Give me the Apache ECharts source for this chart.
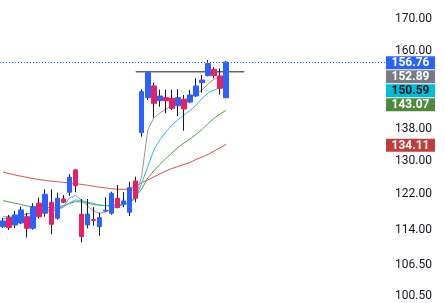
<!DOCTYPE html>
<html><head><meta charset="utf-8">
<script src="https://cdn.jsdelivr.net/npm/echarts@6/dist/echarts.min.js"></script>
<style>html,body{margin:0;padding:0;background:#fff}#c{width:445px;height:303px}</style>
</head><body><div id="c"></div>
<script>
const opens  = [114.66,116.64,115.03,115.47,116.86,114.31,119.88,117.62,120.11,116.51,120.86,122.41,127.70,117.40,115.03,116.20,114.66,118.10,117.62,121.02,119.65,117.85,125.06,137.09,146.52,149.82,145.69,146.52,146.36,144.31,146.08,145.29,146.99,150.74,152.78,154.64,152.69,146.52];
const highs  = [116.57,117.24,118.14,119.11,117.70,119.88,121.16,123.11,123.11,122.31,121.78,126.74,127.95,120.86,120.86,118.97,117.76,121.25,122.54,124.12,122.41,124.90,126.09,148.88,153.85,150.74,148.79,148.79,148.79,148.88,147.27,148.68,152.02,152.98,157.40,155.24,154.94,157.00];
const lows   = [114.38,113.94,114.38,115.20,112.29,114.00,116.50,116.86,113.02,116.20,119.90,121.55,122.41,111.31,114.31,114.88,112.72,117.90,117.30,118.74,118.97,117.00,120.11,136.05,145.88,141.06,144.03,142.24,143.13,141.51,137.61,145.00,146.70,147.92,152.60,152.02,147.38,146.40];
const closes = [115.91,114.44,117.24,118.36,114.31,119.11,116.86,121.94,115.18,121.02,120.11,125.95,123.95,112.51,117.46,116.05,116.64,118.30,122.17,118.88,120.40,123.48,121.02,148.20,153.65,144.97,146.99,145.69,143.60,146.52,143.40,147.27,149.82,151.53,156.36,152.78,149.17,156.76];
const maGray  = [116.35,116.57,116.80,117.02,117.46,117.91,118.14,118.36,118.47,118.70,119.04,121.09,121.66,120.63,119.26,118.14,117.62,117.91,118.59,119.26,119.60,120.18,121.32,126.26,137.79,140.97,142.32,143.40,144.22,145.19,145.88,146.57,147.55,148.68,150.38,151.82,151.97,152.89];
const maCyan  = [116.80,116.91,117.02,117.24,117.46,117.69,117.91,118.02,118.14,118.36,119.04,119.95,120.63,120.52,120.18,119.83,119.49,119.33,119.26,119.38,119.60,119.95,121.09,124.59,128.51,132.65,135.20,137.27,139.11,140.44,141.78,143.00,144.36,146.30,147.83,148.68,149.39,150.59];
const maGreen = [120.47,120.18,119.88,119.60,119.26,119.04,118.90,118.88,118.90,119.04,119.31,119.83,120.24,120.18,119.88,119.60,119.42,119.33,119.40,119.49,119.58,119.95,121.32,123.18,125.78,127.46,129.04,130.53,131.90,133.28,134.43,135.46,136.62,137.92,139.51,140.90,142.05,143.07];
const maRed   = [127.21,126.85,126.50,126.19,125.90,125.64,125.40,125.21,125.02,124.88,124.74,124.59,124.47,124.24,124.05,123.81,123.60,123.41,123.22,123.13,123.08,123.13,123.77,124.71,125.30,126.02,126.74,127.46,128.07,128.55,129.04,129.54,130.29,130.90,131.53,132.40,133.20,134.11];
const yTicks = [170, 160, 138, 130, 122, 114, 106.5, 100.5];
const levelPrice = 153.9, levelFrom = 22, levelTo = 40;
const totalSlots = 64;
const categories = opens.map((_, i) => String(i + 1));

const BLUE = '#2962ff', PINK = '#e91e63', INK = '#131722';
const allCats = categories.concat(Array.from({length: totalSlots - categories.length}, (_, i) => 'e' + i));
const wickData = opens.map((o, i) => [o, closes[i], lows[i], highs[i]]);
const bodyData = opens.map((o, i) => [o, closes[i], Math.min(o, closes[i]), Math.max(o, closes[i])]);
const levelData = allCats.map((_, i) => (i >= levelFrom && i <= levelTo) ? levelPrice : null);

const chart = echarts.init(document.getElementById('c'), null, {renderer: 'canvas'});
const lineS = (data, color) => ({type: 'line', data, symbol: 'none', smooth: false, silent: true,
  lineStyle: {color, width: 1}, z: 2});
chart.setOption({
  animation: false,
  backgroundColor: '#ffffff',
  grid: {left: 0, right: 59, top: 0, bottom: 0},
  xAxis: {type: 'category', data: allCats, show: false, boundaryGap: true},
  yAxis: {type: 'log', logBase: 10, position: 'right', min: 99.17, max: 176.42,
    splitLine: {show: false}, axisLine: {show: false}, axisTick: {show: false},
    axisLabel: {customValues: yTicks, formatter: v => Number(v).toFixed(2), color: INK,
      fontSize: 12, fontFamily: 'Roboto', margin: 9}},
  series: [
    lineS(maRed, '#d4524e'),
    lineS(maGreen, '#5a9a48'),
    lineS(maCyan, '#22c0d8'),
    lineS(maGray, '#9598a1'),
    {type: 'line', data: levelData, symbol: 'none', lineStyle: {color: INK, width: 1}, z: 3, silent: true},
    {type: 'candlestick', data: wickData, barWidth: 1, z: 4, silent: true,
      itemStyle: {color: INK, color0: INK, borderColor: INK, borderColor0: INK, borderWidth: 1},
      markLine: {symbol: 'none', silent: true, label: {show: false},
        lineStyle: {color: BLUE, type: [1, 2], width: 1},
        data: [{yAxis: closes[closes.length - 1]}]}},
    {type: 'candlestick', data: bodyData, barWidth: 5, z: 5, silent: true,
      itemStyle: {color: BLUE, color0: PINK, borderColor: BLUE, borderColor0: PINK, borderWidth: 1}}
  ]
});

// price tags on the right axis; nearby tags are grouped, stacked and centred on their mean
const tags = [
  {v: closes[closes.length - 1], bg: BLUE, fg: '#ffffff'},
  {v: maGray[maGray.length - 1], bg: '#787b86', fg: '#ffffff'},
  {v: maCyan[maCyan.length - 1], bg: '#00bcd4', fg: '#131722'},
  {v: maGreen[maGreen.length - 1], bg: '#4e8a3e', fg: '#ffffff'},
  {v: maRed[maRed.length - 1], bg: '#c43c38', fg: '#ffffff'}
];
const H = 14, NEAR = 28;
tags.forEach(t => { t.y0 = chart.convertToPixel({yAxisIndex: 0}, t.v); });
tags.sort((a, b) => a.y0 - b.y0);
let groups = tags.map(t => [t]);
const layout = g => {
  const c = g.reduce((s, t) => s + t.y0, 0) / g.length + 1;
  g.forEach((t, i) => { t.y = c + (i - (g.length - 1) / 2) * H; });
};
let merged = true;
while (merged) {
  merged = false;
  groups.forEach(layout);
  for (let i = 0; i < groups.length - 1; i++) {
    const a = groups[i], b = groups[i + 1];
    if (a[a.length - 1].y + NEAR > b[0].y) { groups.splice(i, 2, a.concat(b)); merged = true; break; }
  }
}
groups.forEach(layout);
const els = [];
tags.forEach(t => {
  els.push({type: 'rect', shape: {x: 386, y: t.y - H / 2 + 0.5, width: 49, height: H - 1}, style: {fill: t.bg}, z: 100});
  els.push({type: 'text', x: 410.5, y: t.y + 0.5, style: {text: t.v.toFixed(2), fill: t.fg, font: 'bold 12px Roboto',
    align: 'center', verticalAlign: 'middle'}, z: 101});
});
chart.setOption({graphic: els});
</script></body></html>
